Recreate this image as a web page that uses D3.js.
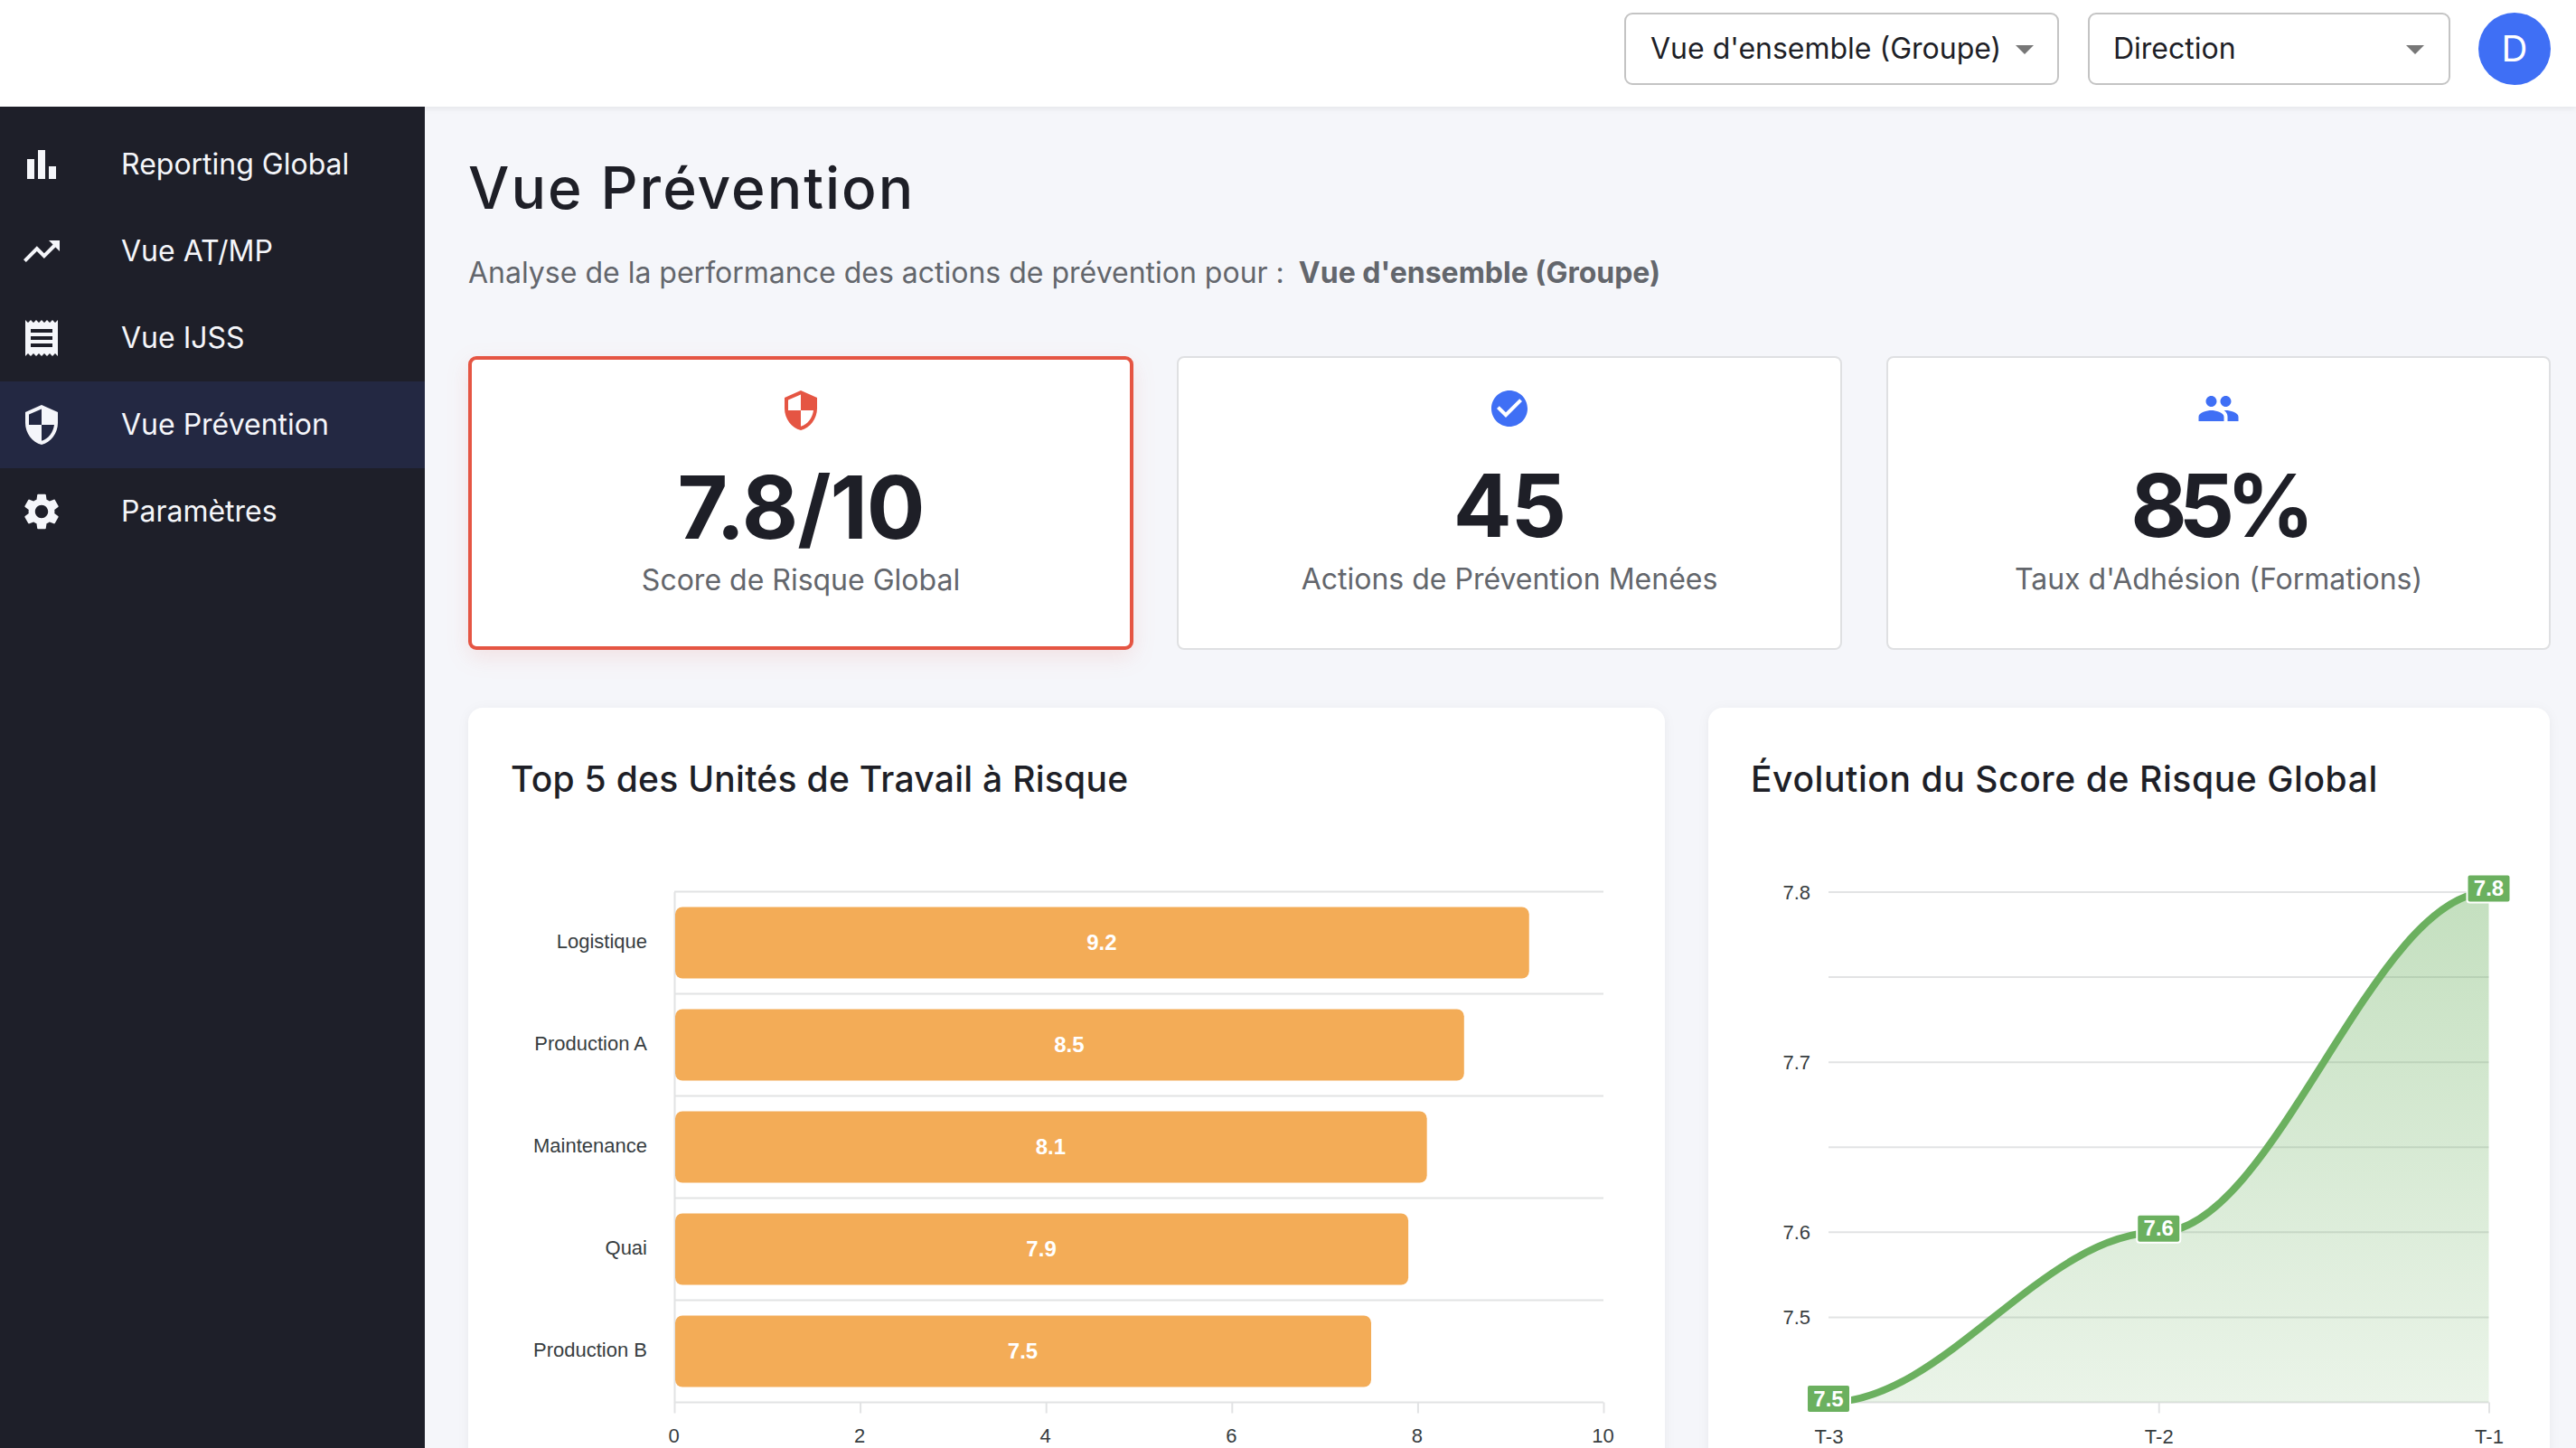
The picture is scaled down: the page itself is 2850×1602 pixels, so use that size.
<!DOCTYPE html>
<html lang="fr">
<head>
<meta charset="utf-8">
<title>Vue Prévention</title>
<script src="https://cdn.jsdelivr.net/npm/d3@7"></script>
<style>
html,body{margin:0;padding:0;background:#f5f6fa;overflow:hidden;width:2850px;height:1602px}
svg{display:block}
text{font-family:Inter,"Noto Sans",sans-serif}
.chartText text,text.chartText{font-family:"Liberation Sans",Arial,sans-serif}
</style>
</head>
<body>
<div id="app"></div>
<script>
// ---- Data ----
const navLabels = ["Reporting Global", "Vue AT/MP", "Vue IJSS", "Vue Prévention", "Paramètres"];
const selectLabels = ["Vue d'ensemble (Groupe)", "Direction"];
const kpiValues = ["7.8/10", "45", "85%"];
const kpiLabels = ["Score de Risque Global", "Actions de Prévention Menées", "Taux d'Adhésion (Formations)"];
const unitNames = ["Logistique", "Production A", "Maintenance", "Quai", "Production B"];
const unitScores = [9.2, 8.5, 8.1, 7.9, 7.5];
const barTicks = [0, 2, 4, 6, 8, 10];
const periods = ["T-3", "T-2", "T-1"];
const riskScores = [7.5, 7.6, 7.8];
const riskTicks = [7.5, 7.55, 7.6, 7.65, 7.7, 7.75, 7.8];
const riskTickLabels = ["", "7.5", "7.6", "", "7.7", "", "7.8"];

const C = {bg:"#f5f6fa", side:"#1e1f29", active:"#232842", ink:"#1e1f27", grey:"#63666c", red:"#e55543",
  blue:"#3f6ff5", orange:"#f3ac57", green:"#6bb05f", grid:"#e2e3e4", axisText:"#373d3f"};
const ICON = {
  bar:"M4 9h4v11H4zm12 4h4v7h-4zm-6-9h4v16h-4z",
  trend:"M16 6l2.29 2.29-4.88 4.88-4-4L2 16.59 3.41 18l6-6 4 4 6.3-6.29L22 12V6z",
  receipt:"M18 17H6v-2h12v2zm0-4H6v-2h12v2zm0-4H6V7h12v2zM3 22l1.5-1.5L6 22l1.5-1.5L9 22l1.5-1.5L12 22l1.5-1.5L15 22l1.5-1.5L18 22l1.5-1.5L21 22V2l-1.5 1.5L18 2l-1.5 1.5L15 2l-1.5 1.5L12 2l-1.5 1.5L9 2 7.5 3.5 6 2 4.5 3.5 3 2v20z",
  shield:"M12 1L3 5v6c0 5.55 3.84 10.74 9 12 5.16-1.26 9-6.45 9-12V5l-9-4zm0 10.99h7c-.53 4.12-3.28 7.79-7 8.94V12H5V6.3l7-3.11v8.8z",
  gear:"M19.14 12.94c.04-.3.06-.61.06-.94 0-.32-.02-.64-.07-.94l2.03-1.58c.18-.14.23-.41.12-.61l-1.92-3.32c-.12-.22-.37-.29-.59-.22l-2.39.96c-.5-.38-1.03-.7-1.62-.94l-.36-2.54c-.04-.24-.24-.41-.48-.41h-3.84c-.24 0-.43.17-.47.41l-.36 2.54c-.59.24-1.13.57-1.62.94l-2.39-.96c-.22-.08-.47 0-.59.22L2.74 8.87c-.12.21-.08.47.12.61l2.03 1.58c-.05.3-.09.63-.09.94s.02.64.07.94l-2.03 1.58c-.18.14-.23.41-.12.61l1.92 3.32c.12.22.37.29.59.22l2.39-.96c.5.38 1.03.7 1.62.94l.36 2.54c.05.24.24.41.48.41h3.84c.24 0 .44-.17.47-.41l.36-2.54c.59-.24 1.13-.56 1.62-.94l2.39.96c.22.08.47 0 .59-.22l1.92-3.32c.12-.22.07-.47-.12-.61l-2.01-1.58zM12 15.6c-1.98 0-3.6-1.62-3.6-3.6s1.62-3.6 3.6-3.6 3.6 1.62 3.6 3.6-1.62 3.6-3.6 3.6z",
  check:"M12 2C6.48 2 2 6.48 2 12s4.48 10 10 10 10-4.48 10-10S17.52 2 12 2zm-2 15l-5-5 1.41-1.41L10 14.17l7.59-7.59L19 8l-9 9z",
  people:"M16 11c1.66 0 2.99-1.34 2.99-3S17.66 5 16 5c-1.66 0-3 1.34-3 3s1.34 3 3 3zm-8 0c1.66 0 2.99-1.34 2.99-3S9.66 5 8 5C6.34 5 5 6.34 5 8s1.34 3 3 3zm0 2c-2.33 0-7 1.17-7 3.5V19h14v-2.5c0-2.33-4.67-3.5-7-3.5zm8 0c-.29 0-.62.02-.97.05 1.16.84 1.97 1.97 1.97 3.45V19h6v-2.5c0-2.33-4.67-3.5-7-3.5z"
};

const svg = d3.select("#app").append("svg").attr("width",2850).attr("height",1602).attr("viewBox","0 0 2850 1602");
const defs = svg.append("defs");
const grad = defs.append("linearGradient").attr("id","areaGrad").attr("x1",0).attr("y1",0).attr("x2",0).attr("y2",1);
grad.append("stop").attr("offset",0).attr("stop-color",C.green).attr("stop-opacity",.4);
grad.append("stop").attr("offset",1).attr("stop-color",C.green).attr("stop-opacity",.14);

function icon(g,d,cx,cy,size,fill){
  g.append("path").attr("d",d).attr("fill",fill)
   .attr("transform",`translate(${cx-size/2},${cy-size/2}) scale(${size/24})`);
}

// page background
svg.append("rect").attr("width",2850).attr("height",1602).attr("fill",C.bg);

// header
svg.append("rect").attr("x",0).attr("y",0).attr("width",2850).attr("height",118).attr("fill","#fff")
  .style("filter","drop-shadow(0 2px 3px rgba(0,0,0,.07))");
const selBoxes = [[1798,479,2240],[2311,399,2672]];
selBoxes.forEach((b,i)=>{
  svg.append("rect").attr("x",b[0]).attr("y",15).attr("width",b[1]).attr("height",78).attr("rx",8)
    .attr("fill","#fff").attr("stroke","#c4c4c4").attr("stroke-width",2);
  svg.append("text").attr("x",b[0]+(i?27:28)).attr("y",65).attr("font-size",32).attr("fill",C.ink).text(selectLabels[i]);
  svg.append("path").attr("d",`M${b[2]-10} 50h20l-10 10z`).attr("fill","#777");
});
svg.append("circle").attr("cx",2782).attr("cy",54).attr("r",40).attr("fill",C.blue);
svg.append("text").attr("x",2782).attr("y",68).attr("text-anchor","middle").attr("font-size",40).attr("fill","#fff").text("D");

// sidebar
svg.append("rect").attr("x",0).attr("y",118).attr("width",470).attr("height",1484).attr("fill",C.side);
svg.append("rect").attr("x",0).attr("y",422).attr("width",470).attr("height",96).attr("fill",C.active);
[ICON.bar,ICON.trend,ICON.receipt,ICON.shield,ICON.gear].forEach((d,i)=>{
  const cy = 182+96*i;
  icon(svg,d,46,cy,48,"#f5f6fa");
  svg.append("text").attr("x",134).attr("y",cy+11).attr("font-size",32).attr("fill","#f5f6fa").text(navLabels[i]);
});

// page heading
svg.append("text").attr("x",518).attr("y",231).attr("font-size",64).attr("font-weight",500).attr("letter-spacing",2).attr("fill",C.ink).text("Vue Prévention");
const sub = svg.append("text").attr("x",518).attr("y",313).attr("font-size",32).attr("fill",C.grey);
sub.append("tspan").text("Analyse de la performance des actions de prévention pour : ");
sub.append("tspan").attr("font-weight",700).attr("dx",7).text("Vue d'ensemble (Groupe)");

// KPI cards
const cards = [{x:518,w:736,icon:ICON.shield,col:C.red,base:596,lab:653,cy:454,ls:-1},
               {x:1302,w:736,icon:ICON.check,col:C.blue,base:594,lab:652,cy:452,ls:-1},
               {x:2087,w:735,icon:ICON.people,col:C.blue,base:594,lab:652,cy:452,ls:-9}];
cards.forEach((c,i)=>{
  const border = i===0;
  svg.append("rect").attr("x",c.x+(border?2:1)).attr("y",394+(border?2:1))
    .attr("width",c.w-(border?4:2)).attr("height",325-(border?4:2)).attr("rx",7)
    .attr("fill","#fff").attr("stroke",border?C.red:"#dfe0e2").attr("stroke-width",border?4:2)
    .style("filter",border?"drop-shadow(0 8px 12px rgba(229,85,67,.12))":"none");
  const mid = c.x+c.w/2;
  icon(svg,c.icon,mid,c.cy,48,c.col);
  svg.append("text").attr("x",mid).attr("y",c.base).attr("text-anchor","middle").attr("font-size",96).attr("font-weight",700).attr("letter-spacing",c.ls).attr("fill",C.ink).text(kpiValues[i]);
  svg.append("text").attr("x",mid).attr("y",c.lab).attr("text-anchor","middle").attr("font-size",32).attr("fill",C.grey).text(kpiLabels[i]);
});

// chart cards
[[518,1324,"Top 5 des Unités de Travail à Risque",.28],[1890,931,"Évolution du Score de Risque Global",.6]].forEach(p=>{
  svg.append("rect").attr("x",p[0]).attr("y",783).attr("width",p[1]).attr("height",900).attr("rx",16).attr("fill","#fff")
    .style("filter","drop-shadow(0 2px 6px rgba(0,0,0,.05))");
  svg.append("text").attr("x",p[0]+47).attr("y",876).attr("font-size",39).attr("font-weight",500).attr("letter-spacing",p[3]).attr("fill",C.ink).text(p[2]);
});

// ---- Bar chart ----
const x = d3.scaleLinear().domain([0,10]).range([746,1774]);
const yB = d3.scaleBand().domain(unitNames).range([986.5,1551.5]).paddingInner(.3).paddingOuter(.15);
const bar = svg.append("g").attr("class","chartText");
const gridStep = yB.step();
bar.append("g").selectAll("line").data(d3.range(unitNames.length+1)).join("line")
  .attr("x1",x(0)).attr("x2",x(10))
  .attr("y1",i=>986.5+i*gridStep).attr("y2",i=>986.5+i*gridStep)
  .attr("stroke",C.grid).attr("stroke-width",2);
const xAxisG = bar.append("g").attr("transform","translate(0,1551.5)")
  .call(d3.axisBottom(x).tickValues(barTicks).tickFormat(d3.format("d")).tickSize(12).tickPadding(16));
xAxisG.select(".domain").remove();
xAxisG.selectAll("line").attr("stroke",C.grid).attr("stroke-width",2);
xAxisG.selectAll("text").attr("font-size",22).attr("fill",C.axisText).attr("dy",0).attr("y",44.5).attr("dx",-1);
const yAxisG = bar.append("g").attr("transform",`translate(${x(0)},0)`)
  .call(d3.axisLeft(yB).tickSize(0).tickPadding(30));
yAxisG.select(".domain").attr("stroke",C.grid).attr("stroke-width",2);
yAxisG.selectAll("text").attr("font-size",22).attr("fill",C.axisText).attr("dy",".26em");
bar.append("g").selectAll("rect").data(unitNames).join("rect")
  .attr("x",x(0)+1).attr("y",d=>yB(d))
  .attr("width",(d,i)=>x(unitScores[i])-x(0)-1).attr("height",yB.bandwidth()).attr("rx",8)
  .attr("fill",C.orange);
bar.append("g").selectAll("text").data(unitNames).join("text")
  .attr("x",(d,i)=>x(unitScores[i]/2)).attr("y",d=>yB(d)+yB.bandwidth()/2+8)
  .attr("text-anchor","middle").attr("font-size",24).attr("font-weight",700).attr("fill","#fff")
  .text((d,i)=>unitScores[i].toFixed(1));

// ---- Area chart ----
const xP = d3.scalePoint().domain(periods).range([2023,2753.5]);
const yR = d3.scaleLinear().domain([7.5,7.8]).range([1551.5,987]);
const line2 = svg.append("g").attr("class","chartText");
line2.append("g").selectAll("line").data(riskTicks).join("line")
  .attr("x1",xP(periods[0])).attr("x2",xP(periods[2]))
  .attr("y1",d=>yR(d)).attr("y2",d=>yR(d)).attr("stroke",C.grid).attr("stroke-width",2);
const yAxisR = line2.append("g").attr("transform",`translate(${xP(periods[0])},0)`)
  .call(d3.axisLeft(yR).tickValues(riskTicks).tickSize(0).tickPadding(20)
    .tickFormat((d,i)=>riskTickLabels[i]));
yAxisR.select(".domain").remove();
yAxisR.selectAll("text").attr("font-size",22).attr("fill",C.axisText).attr("dy",".33em");
const xAxisR = line2.append("g").attr("transform","translate(0,1551.5)")
  .call(d3.axisBottom(xP).tickSize(12).tickPadding(16));
xAxisR.select(".domain").remove();
xAxisR.selectAll("line").attr("stroke",C.grid).attr("stroke-width",2);
xAxisR.selectAll("text").attr("font-size",22).attr("fill",C.axisText).attr("dy",0).attr("y",45.5);

// spline with horizontal tangents and control arms at 35% of each interval
function Smooth35(context){this._context=context;}
Smooth35.prototype={
  areaStart(){this._line=0;}, areaEnd(){this._line=NaN;},
  lineStart(){this._point=0;},
  lineEnd(){
    if(this._line||(this._line!==0&&this._point===1))this._context.closePath();
    this._line=1-this._line;
  },
  point(px,py){
    px=+px;py=+py;
    if(this._point===0){
      this._point=1;
      this._line?this._context.lineTo(px,py):this._context.moveTo(px,py);
    }else{
      this._point=2;
      const arm=(px-this._x0)*.35;
      this._context.bezierCurveTo(this._x0+arm,this._y0,px-arm,py,px,py);
    }
    this._x0=px;this._y0=py;
  }
};
const smooth35 = context=>new Smooth35(context);
line2.append("path").datum(riskScores)
  .attr("d",d3.area().x((d,i)=>xP(periods[i])).y0(yR(7.5)).y1(d=>yR(d)).curve(smooth35))
  .attr("fill","url(#areaGrad)");
line2.append("path").datum(riskScores)
  .attr("d",d3.line().x((d,i)=>xP(periods[i])).y(d=>yR(d)).curve(smooth35))
  .attr("fill","none").attr("stroke",C.green).attr("stroke-width",8);
const lab = line2.append("g").selectAll("g").data(riskScores).join("g")
  .attr("transform",(d,i)=>`translate(${xP(periods[i])},${yR(d)-4})`);
lab.append("rect").attr("x",-24).attr("y",-15.5).attr("width",48).attr("height",31).attr("rx",3)
  .attr("fill",C.green).attr("stroke","#fff").attr("stroke-width",2);
lab.append("text").attr("text-anchor","middle").attr("y",8).attr("font-size",24).attr("font-weight",700).attr("fill","#fff")
  .text(d=>d.toFixed(1));
</script>
</body>
</html>
